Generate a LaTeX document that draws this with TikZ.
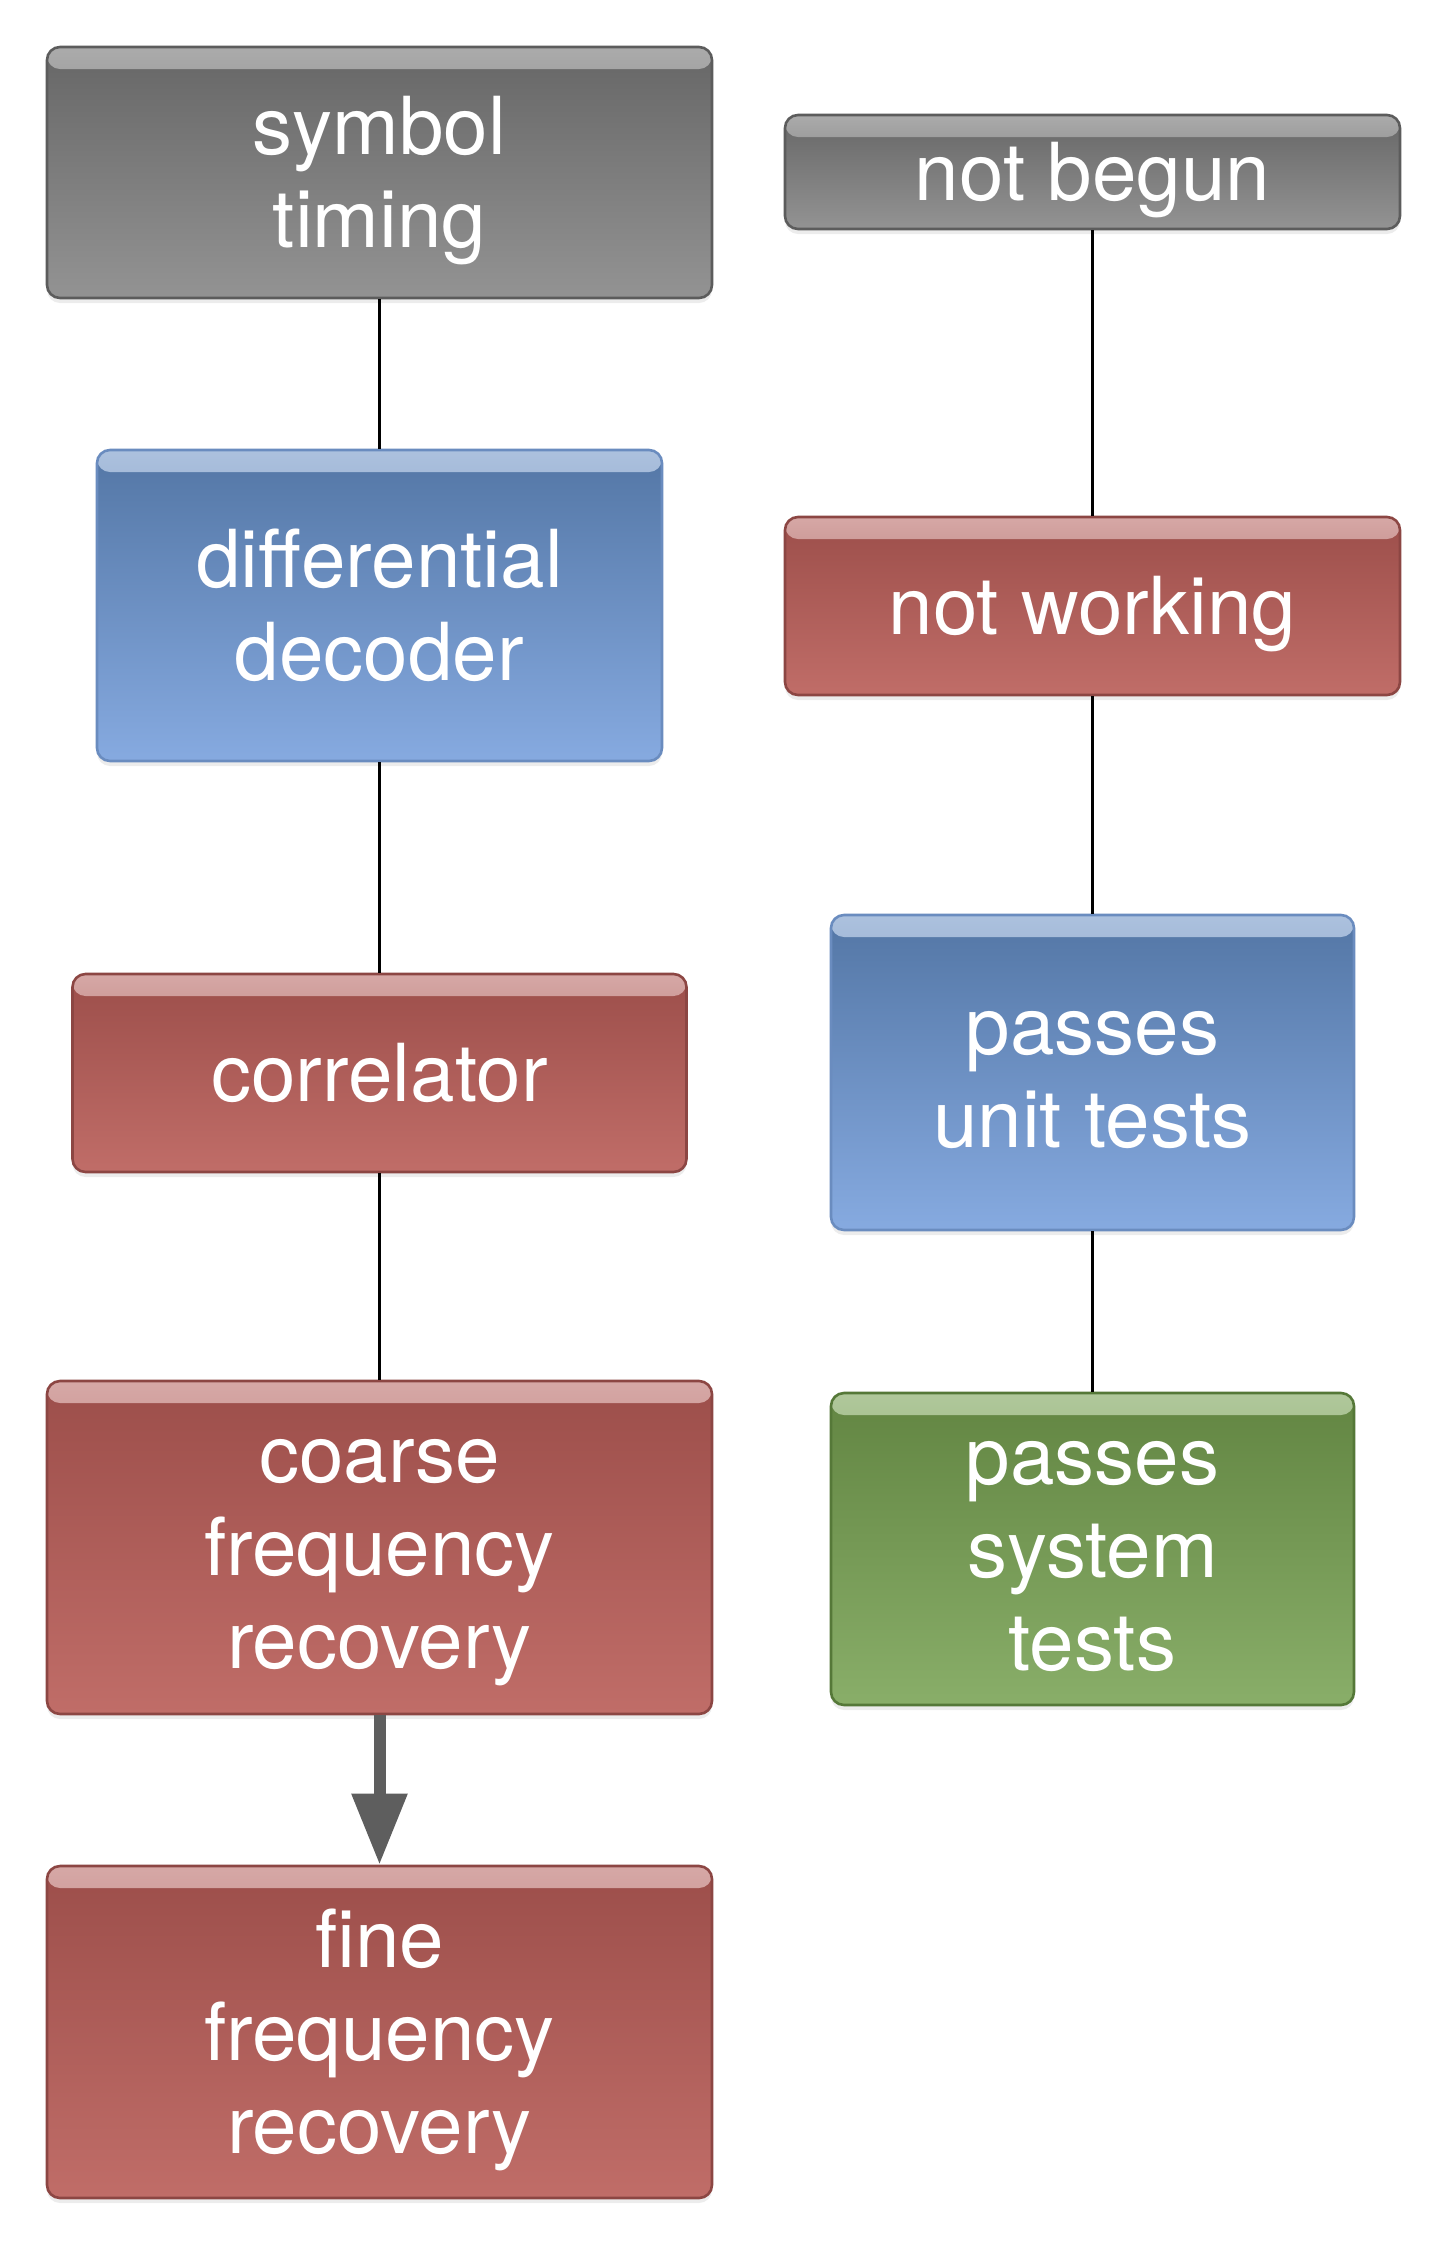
\documentclass[tikz,border=0pt]{standalone}
\usepackage{fontspec}
\setmainfont{TeX Gyre Heros}
\usetikzlibrary{arrows.meta,shadows}

\definecolor{greyTop}{HTML}{666666}
\definecolor{greyBot}{HTML}{939393}
\definecolor{greyEdge}{HTML}{5C5C5C}
\definecolor{greyHi}{HTML}{ABABAB}
\definecolor{blueTop}{HTML}{5376A5}
\definecolor{blueBot}{HTML}{86AAE0}
\definecolor{blueEdge}{HTML}{6A8CBF}
\definecolor{blueHi}{HTML}{ACC1DE}
\definecolor{redTop}{HTML}{9C4E4A}
\definecolor{redBot}{HTML}{C06D68}
\definecolor{redEdge}{HTML}{8C4643}
\definecolor{redHi}{HTML}{D6A8A6}
\definecolor{greenTop}{HTML}{628542}
\definecolor{greenBot}{HTML}{89AE69}
\definecolor{greenEdge}{HTML}{557838}
\definecolor{greenHi}{HTML}{B0C89B}
\definecolor{arrowGrey}{HTML}{5E5E5E}

\newcommand\linestrut{\rule[-9.25pt]{0pt}{46.5pt}}

\begin{document}
\begin{tikzpicture}[x=0.5pt, y=-0.5pt,
        box/.style={rounded corners=6.5pt, line width=1.3pt, text=white, align=center,
            font=\fontsize{40}{46.5}\selectfont, inner sep=0pt,
            drop shadow={opacity=0.15, shadow xshift=0pt, shadow yshift=-2.5pt},
            draw=#1Edge, top color=#1Top, bottom color=#1Bot,
            path picture={\shade[top color=#1Hi, bottom color=#1Top]
                (path picture bounding box.north west) rectangle
                ([yshift=-11pt]path picture bounding box.north east);}},
        sz/.style 2 args={minimum width=#1*0.5pt, minimum height=#2*0.5pt},
        link/.style={black, line width=1.3pt},
        flow/.style={arrowGrey, line width=6pt, -{Triangle[width=26.5pt, length=35.5pt]}}]
    \useasboundingbox (0,0) rectangle (1445,2245);

    \node[box=grey, sz={665}{251}] (timing) at (379.5,172.5) {symbol\linestrut\\timing\linestrut};
    \node[box=blue, sz={565}{311}] (decoder) at (379.5,605.5) {differential\linestrut\\decoder\linestrut};
    \node[box=red, sz={614}{198}] (correlator) at (379.5,1073) {correlator\linestrut};
    \node[box=red, sz={665}{333}] (coarse) at (379.5,1547.5) {coarse\linestrut\\frequency\linestrut\\recovery\linestrut};
    \node[box=red, sz={665}{332}] (fine) at (379.5,2032) {fine\linestrut\\frequency\linestrut\\recovery\linestrut};

    \node[box=grey, sz={615}{114}] (begun) at (1092.5,172) {not begun\linestrut};
    \node[box=red, sz={615}{178}] (working) at (1092.5,606) {not working\linestrut};
    \node[box=blue, sz={523}{315}] (unit) at (1092.5,1072.5) {passes\linestrut\\unit tests\linestrut};
    \node[box=green, sz={523}{312}] (system) at (1092.5,1549) {passes\linestrut\\system\linestrut\\tests\linestrut};

    \draw[link] (timing) -- (decoder);
    \draw[link] (decoder) -- (correlator);
    \draw[link] (correlator) -- (coarse);
    \draw[flow] (coarse) -- (fine);

    \draw[link] (begun) -- (working);
    \draw[link] (working) -- (unit);
    \draw[link] (unit) -- (system);
\end{tikzpicture}
\end{document}
